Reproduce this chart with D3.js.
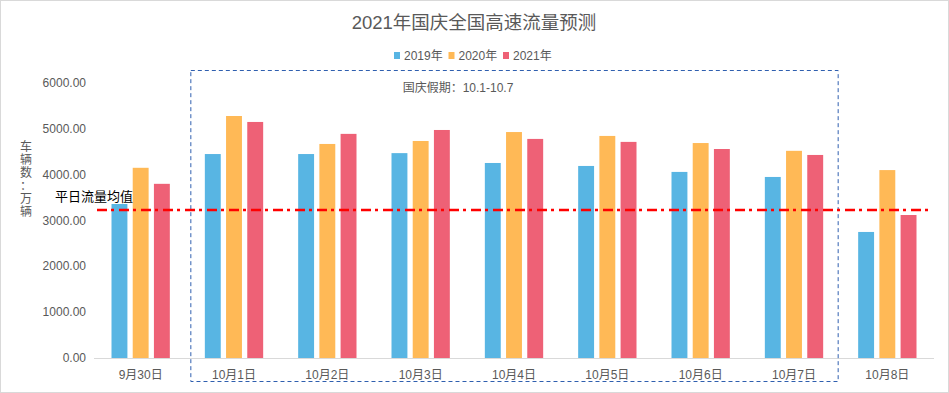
<!DOCTYPE html>
<html>
<head>
<meta charset="utf-8">
<script src="https://cdn.jsdelivr.net/npm/d3@7"></script>
<style>
  body { margin: 0; background: #fff; }
  svg { display: block; font-family: "Liberation Sans", "Noto Sans CJK SC", sans-serif; }
</style>
</head>
<body>
<svg id="chart" width="949" height="393"></svg>
<script>
// data
const days = ["9月30日", "10月1日", "10月2日", "10月3日", "10月4日", "10月5日", "10月6日", "10月7日", "10月8日"];
const seriesNames = ["2019年", "2020年", "2021年"];
const v2019 = [3360, 4450, 4450, 4470, 4255, 4190, 4060, 3950, 2750];
const v2020 = [4150, 5280, 4670, 4735, 4930, 4845, 4690, 4520, 4100];
const v2021 = [3800, 5150, 4890, 4975, 4780, 4715, 4560, 4430, 3120];
const yTicks = [0, 1000, 2000, 3000, 4000, 5000, 6000];
const meanValue = 3230;

const colors = ["#58B5E3", "#FFB956", "#EE6176"];
const allSeries = [v2019, v2020, v2021];

const svg = d3.select("#chart");

// outer border
svg.append("rect")
  .attr("x", 0.5).attr("y", 0.5)
  .attr("width", 948).attr("height", 392)
  .attr("fill", "#fff").attr("stroke", "#d9d9d9");

// scales
const x0 = d3.scaleBand().domain(days).range([94, 934]).padding(0);
const x1 = d3.scaleBand().domain(seriesNames)
  .range([17.5, x0.bandwidth() - 17.5]).paddingInner(0.25);
const y = d3.scaleLinear().domain([0, 6000]).range([358, 83]);

// title
svg.append("text")
  .attr("x", 474).attr("y", 29)
  .attr("text-anchor", "middle")
  .attr("font-size", 18.5)
  .attr("fill", "#595959")
  .text("2021年国庆全国高速流量预测");

// legend
let lx = 394;
seriesNames.forEach((s, i) => {
  svg.append("rect").attr("x", lx).attr("y", 52).attr("width", 6).attr("height", 7).attr("fill", colors[i]);
  svg.append("text").attr("x", lx + 10).attr("y", 60)
    .attr("font-size", 12).attr("fill", "#595959").text(s);
  lx += 54.5;
});

// y axis labels
svg.append("g").selectAll("text").data(yTicks).join("text")
  .attr("x", 86).attr("y", d => y(d) + 4)
  .attr("text-anchor", "end")
  .attr("font-size", 12)
  .attr("fill", "#595959")
  .text(d => d3.format(".2f")(d));

// y axis title, stacked characters
const yTitle = "车辆数：万辆".split("");
svg.append("g").selectAll("text").data(yTitle).join("text")
  .attr("x", 26).attr("y", (d, i) => 151 + i * 13)
  .attr("text-anchor", "middle")
  .attr("font-size", 12)
  .attr("fill", "#595959")
  .text(d => d);

// baseline
svg.append("line")
  .attr("x1", 94).attr("x2", 934)
  .attr("y1", y(0) + 0.5).attr("y2", y(0) + 0.5)
  .attr("stroke", "#d9d9d9");

// bars
const groups = svg.append("g").selectAll("g").data(days).join("g")
  .attr("transform", d => `translate(${x0(d)},0)`);

groups.selectAll("rect")
  .data((d, di) => seriesNames.map((s, si) => ({ s: s, v: allSeries[si][di], c: colors[si] })))
  .join("rect")
  .attr("x", d => x1(d.s))
  .attr("y", d => y(d.v))
  .attr("width", x1.bandwidth())
  .attr("height", d => y(0) - y(d.v))
  .attr("fill", d => d.c);

// x labels
svg.append("g").selectAll("text").data(days).join("text")
  .attr("x", d => x0(d) + x0.bandwidth() / 2)
  .attr("y", 379)
  .attr("text-anchor", "middle")
  .attr("font-size", 12)
  .attr("fill", "#595959")
  .text(d => d);

// holiday box
const boxL = x0("10月1日") + 3;
const boxR = x0("10月8日") - 3;
svg.append("rect")
  .attr("x", boxL + 0.5).attr("y", 70.5)
  .attr("width", boxR - boxL).attr("height", 311)
  .attr("fill", "none")
  .attr("stroke", "#2F5FAF")
  .attr("stroke-width", 1)
  .attr("stroke-dasharray", "4,3");

svg.append("text")
  .attr("x", 458).attr("y", 92)
  .attr("text-anchor", "middle")
  .attr("font-size", 12)
  .attr("fill", "#595959")
  .text("国庆假期：10.1-10.7");

// mean line
svg.append("line")
  .attr("x1", 97).attr("x2", 928)
  .attr("y1", y(meanValue)).attr("y2", y(meanValue))
  .attr("stroke", "#ff0000")
  .attr("stroke-width", 2.5)
  .attr("stroke-dasharray", "10,4,3,5");

svg.append("text")
  .attr("x", 55).attr("y", 201)
  .attr("font-size", 13)
  .attr("fill", "#000")
  .text("平日流量均值");
</script>
</body>
</html>
